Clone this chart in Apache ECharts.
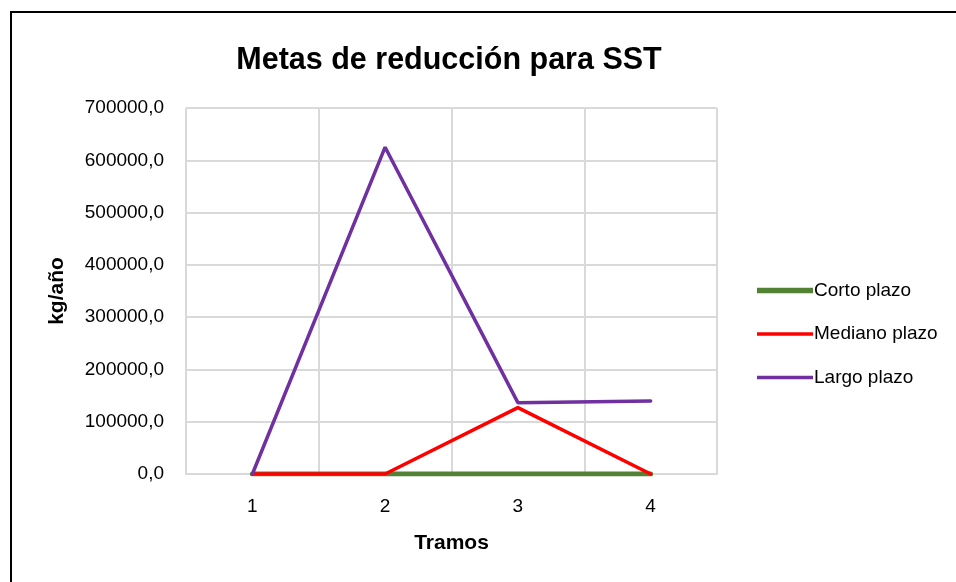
<!DOCTYPE html>
<html>
<head>
<meta charset="utf-8">
<script src="https://cdn.jsdelivr.net/npm/echarts@6/dist/echarts.min.js"></script>
<style>
  html, body { margin: 0; padding: 0; background: #fff; }
  #chart { width: 956px; height: 582px; }
</style>
</head>
<body>
<div id="chart"></div>
<script>
// Tramos (segments) along the x axis
const tramos = ['1', '2', '3', '4'];

// Reduction targets in kg/año per horizon
const cortoPlazo = [0, 0, 0, 0];
const medianoPlazo = [0, 0, 127000, 0];
const largoPlazo = [0, 625000, 136500, 139500];

const FONT = '"Liberation Sans Narrow", "Arial Narrow", "Liberation Sans", sans-serif';

const chart = echarts.init(document.getElementById('chart'), null, { renderer: 'canvas' });

const fmt = v => v.toFixed(1).replace('.', ',');

// Legend swatches: flat bars whose thickness follows each series' stroke
const thickBar = 'path://M0,0 L112,0 L112,11 L0,11 Z';
const thinBar = 'path://M0,0 L112,0 L112,7 L0,7 Z';

chart.setOption({
  backgroundColor: '#ffffff',
  animation: false,
  textStyle: { fontFamily: FONT, color: '#000' },
  title: {
    text: 'Metas de reducción para SST',
    left: 444,
    top: 40,
    textAlign: 'center',
    textStyle: { fontFamily: FONT, fontSize: 30.5, fontWeight: 'bold', color: '#000' }
  },
  graphic: [{
    type: 'rect',
    shape: { x: 11, y: 12, width: 1200, height: 1200 },
    style: { fill: 'none', stroke: '#000', lineWidth: 2 },
    silent: true
  }],
  legend: {
    orient: 'vertical',
    left: 752,
    top: 276,
    itemWidth: 56,
    itemHeight: 12,
    itemGap: 24.5,
    symbolKeepAspect: true,
    textStyle: { fontFamily: FONT, fontSize: 19, color: '#000', padding: [0, 0, 0, -4] },
    data: [
      { name: 'Corto plazo', icon: thickBar },
      { name: 'Mediano plazo', icon: thinBar },
      { name: 'Largo plazo', icon: thinBar }
    ]
  },
  grid: { left: 186, right: 239, top: 108, bottom: 108, containLabel: false },
  xAxis: {
    type: 'category',
    data: tramos,
    boundaryGap: true,
    name: 'Tramos',
    nameLocation: 'middle',
    nameGap: 59,
    nameTextStyle: { fontFamily: FONT, fontSize: 21, fontWeight: 'bold', color: '#000' },
    axisLine: { show: true, lineStyle: { color: '#d9d9d9', width: 2 } },
    axisTick: { show: false },
    axisLabel: { fontFamily: FONT, fontSize: 19, color: '#000', margin: 23 },
    splitLine: { show: true, lineStyle: { color: '#d9d9d9', width: 2 } }
  },
  yAxis: {
    type: 'value',
    min: 0,
    max: 700000,
    interval: 100000,
    name: 'kg/año',
    nameLocation: 'middle',
    nameGap: 118,
    nameRotate: 90,
    nameTextStyle: { fontFamily: FONT, fontSize: 21, fontWeight: 'bold', color: '#000' },
    axisLine: { show: false },
    axisTick: { show: false },
    axisLabel: { fontFamily: FONT, fontSize: 19, color: '#000', margin: 22, formatter: fmt },
    splitLine: { show: true, lineStyle: { color: '#d9d9d9', width: 2 } }
  },
  series: [
    {
      name: 'Corto plazo', type: 'line', data: cortoPlazo,
      symbol: 'none', color: '#548235',
      lineStyle: { width: 5, color: '#548235', cap: 'round' }, z: 2
    },
    {
      name: 'Mediano plazo', type: 'line', data: medianoPlazo,
      symbol: 'none', color: '#ff0000',
      lineStyle: { width: 3.5, color: '#ff0000', cap: 'round' }, z: 3
    },
    {
      name: 'Largo plazo', type: 'line', data: largoPlazo,
      symbol: 'none', color: '#7030a0',
      lineStyle: { width: 3.5, color: '#7030a0', cap: 'round' }, z: 4
    }
  ]
});
</script>
</body>
</html>
